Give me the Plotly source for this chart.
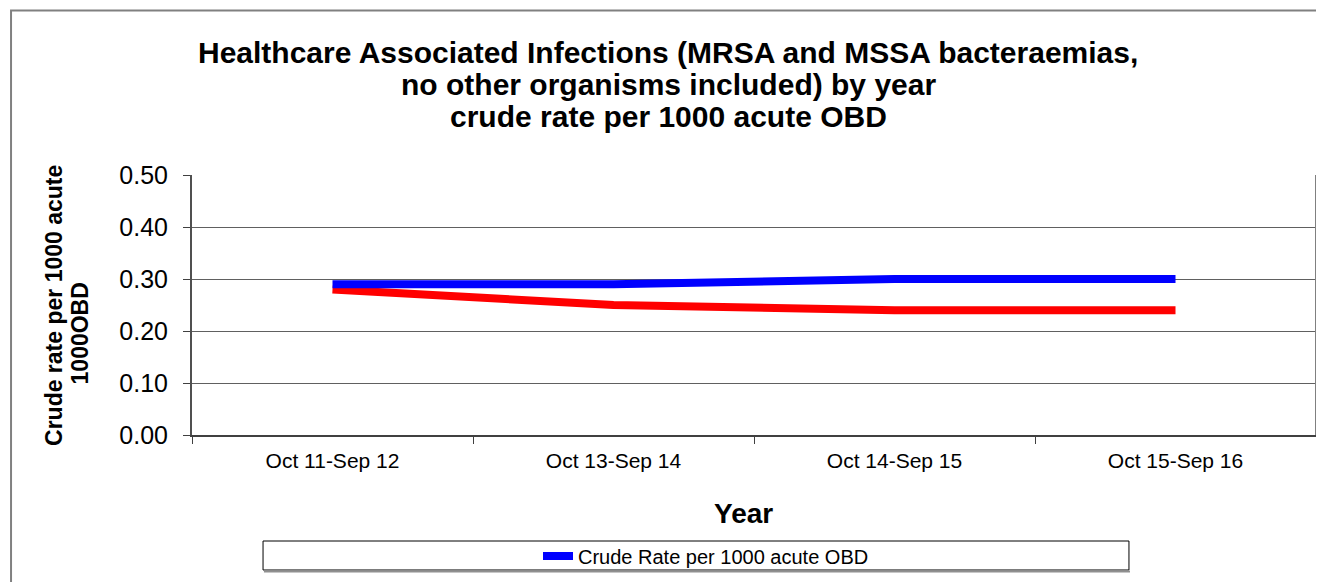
import plotly.graph_objects as go

categories = ["Oct 11-Sep 12", "Oct 13-Sep 14", "Oct 14-Sep 15", "Oct 15-Sep 16"]
crude_rate = [0.29, 0.29, 0.30, 0.30]
second_series = [0.28, 0.25, 0.24, 0.24]
y_ticks = [0.0, 0.1, 0.2, 0.3, 0.4, 0.5]
y_tick_labels = ["0.00", "0.10", "0.20", "0.30", "0.40", "0.50"]
title_lines = [
    "Healthcare Associated Infections (MRSA and MSSA bacteraemias,",
    "no other organisms included) by year",
    "crude rate per 1000 acute OBD",
]
y_title_lines = ["Crude rate per 1000 acute", "1000OBD"]
x_title = "Year"
legend_name = "Crude Rate per 1000 acute OBD"

FONT = "Liberation Sans, Arial, sans-serif"

fig = go.Figure()
fig.add_trace(go.Scatter(
    x=categories, y=second_series, mode="lines",
    line=dict(color="#FF0000", width=8), showlegend=False, name="",
))
fig.add_trace(go.Scatter(
    x=categories, y=crude_rate, mode="lines",
    line=dict(color="#0000FF", width=8), name=legend_name,
))

annotations = []
for txt, yy in zip(title_lines, [1.4712, 1.3481, 1.225]):
    annotations.append(dict(text="<b>%s</b>" % txt, x=0.4235, y=yy, xref="paper", yref="paper",
                            xanchor="center", yanchor="middle", showarrow=False,
                            font=dict(family=FONT, size=30, color="black")))
for txt, xx, yy in zip(y_title_lines, [-0.1228, -0.0988], [0.5, 0.3904]):
    annotations.append(dict(text="<b>%s</b>" % txt, x=xx, y=yy, xref="paper", yref="paper",
                            xanchor="center", yanchor="middle", showarrow=False, textangle=-90,
                            font=dict(family=FONT, size=23, color="black")))
annotations.append(dict(text="<b>%s</b>" % x_title, x=0.491, y=-0.30, xref="paper", yref="paper",
                        xanchor="center", yanchor="middle", showarrow=False,
                        font=dict(family=FONT, size=28, color="black")))

shapes = [
    # outer chart border (only top and left visible)
    dict(type="rect", xref="paper", yref="paper", x0=-0.161, y0=-0.8, x1=1.2, y1=1.6327,
         line=dict(color="#808080", width=2), layer="below"),
    # right border of plot area
    dict(type="line", xref="paper", yref="paper", x0=1, x1=1, y0=0, y1=1,
         line=dict(color="#808080", width=2)),
    # legend box
    dict(type="rect", xref="paper", yref="paper", x0=0.0632, x1=0.8336, y0=-0.5192, y1=-0.4077,
         line=dict(color="black", width=1)),
    dict(type="line", xref="paper", yref="paper", x0=0.0640, x1=0.8345, y0=-0.5250, y1=-0.5250,
         line=dict(color="#909090", width=2)),
]

# the page body adds an 8px offset; margins compensate for it
fig.update_layout(
    width=1324, height=582,
    margin=dict(l=184, r=16, t=167, b=155),
    paper_bgcolor="white", plot_bgcolor="white",
    font=dict(family=FONT, color="black"),
    showlegend=True,
    legend=dict(x=0.4573, y=-0.465, xanchor="center", yanchor="middle", orientation="h",
                bgcolor="rgba(0,0,0,0)", borderwidth=0,
                font=dict(family=FONT, size=20, color="black")),
    annotations=annotations,
    shapes=shapes,
    xaxis=dict(
        type="category", range=[-0.5, 3.5], tickson="boundaries",
        ticks="outside", ticklen=7, tickcolor="#404040", tickwidth=1,
        showline=True, linecolor="#404040", linewidth=2,
        showgrid=False, zeroline=False,
        tickfont=dict(family=FONT, size=21, color="black"),
        ticklabelstandoff=6,
    ),
    yaxis=dict(
        range=[0, 0.5], tickvals=y_ticks, ticktext=y_tick_labels,
        ticks="outside", ticklen=7, tickcolor="#404040", tickwidth=1,
        showline=True, linecolor="#505050", linewidth=2,
        showgrid=True, gridcolor="#606060", gridwidth=1, zeroline=False,
        tickfont=dict(family=FONT, size=25, color="black"),
        ticklabelstandoff=10,
    ),
)

fig.write_html("out.html")
